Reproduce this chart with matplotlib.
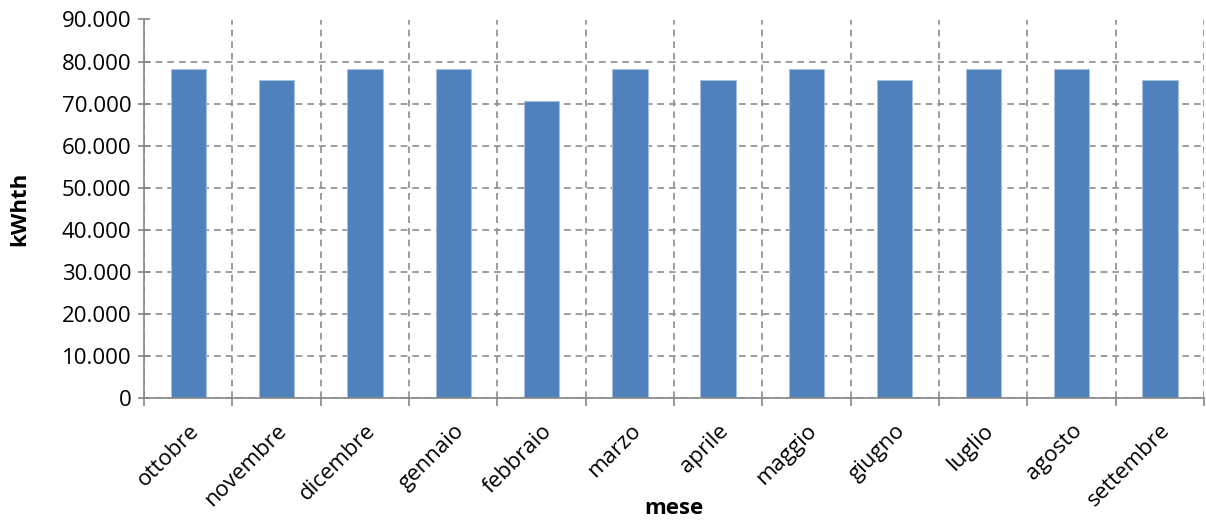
import matplotlib
matplotlib.use("Agg")
import matplotlib.pyplot as plt
from matplotlib.ticker import FuncFormatter, MultipleLocator, FixedLocator

mesi = ["ottobre", "novembre", "dicembre", "gennaio", "febbraio", "marzo",
        "aprile", "maggio", "giugno", "luglio", "agosto", "settembre"]
energia_kwhth = [78120, 75600, 78120, 78120, 70560, 78120,
                 75600, 78120, 75600, 78120, 78120, 75600]

plt.rcParams['font.family'] = ['Open Sans', 'DejaVu Sans']

W, H = 1206, 522
fig = plt.figure(figsize=(W / 100, H / 100), dpi=100)
ax = fig.add_axes([144 / W, 1 - 398 / H, (1204 - 144) / W, (398 - 19.5) / H])

x = list(range(len(mesi)))
ax.bar(x, energia_kwhth, width=0.4, color="#4F81BD", edgecolor="#A7BFDE",
       linewidth=0.8, zorder=3)

ax.set_xlim(-0.5, len(mesi) - 0.5)
ax.set_ylim(0, 90000)
ax.yaxis.set_major_locator(MultipleLocator(10000))
ax.yaxis.set_major_formatter(FuncFormatter(
    lambda v, p: "0" if v == 0 else f"{int(v):,}".replace(",", ".")))

ax.set_xticks(x)
ax.set_xticklabels(mesi, rotation=45, ha="right", rotation_mode="anchor",
                   fontsize=16)
ax.tick_params(axis="x", which="major", length=0, pad=16)
ax.xaxis.set_minor_locator(FixedLocator([i - 0.5 for i in range(len(mesi) + 1)]))
ax.tick_params(axis="x", which="minor", length=6, color="#868686", width=1.2,
               direction="out")
ax.tick_params(axis="y", length=8, direction="inout", color="#868686", width=1.2,
               labelsize=16, pad=5)

ax.grid(True, axis="y", which="major", linestyle=(0, (4, 3)), color="#8C8C8C",
        linewidth=1.2, zorder=0)
ax.grid(True, axis="x", which="minor", linestyle=(0, (4, 3)), color="#8C8C8C",
        linewidth=1.2, zorder=0)

for s in ("top", "right"):
    ax.spines[s].set_visible(False)
for s in ("left", "bottom"):
    ax.spines[s].set_color("#868686")
    ax.spines[s].set_linewidth(1.2)
    ax.spines[s].set_zorder(4)

ax.set_ylabel("kWhth", fontsize=16, fontweight="bold")
ax.yaxis.set_label_coords((30 - 144) / (1204 - 144), 0.5)
ax.set_xlabel("mese", fontsize=16, fontweight="bold")
ax.xaxis.set_label_coords(0.5, -(498 - 398) / (398 - 19.5))

fig.savefig("out.png", dpi=100)
